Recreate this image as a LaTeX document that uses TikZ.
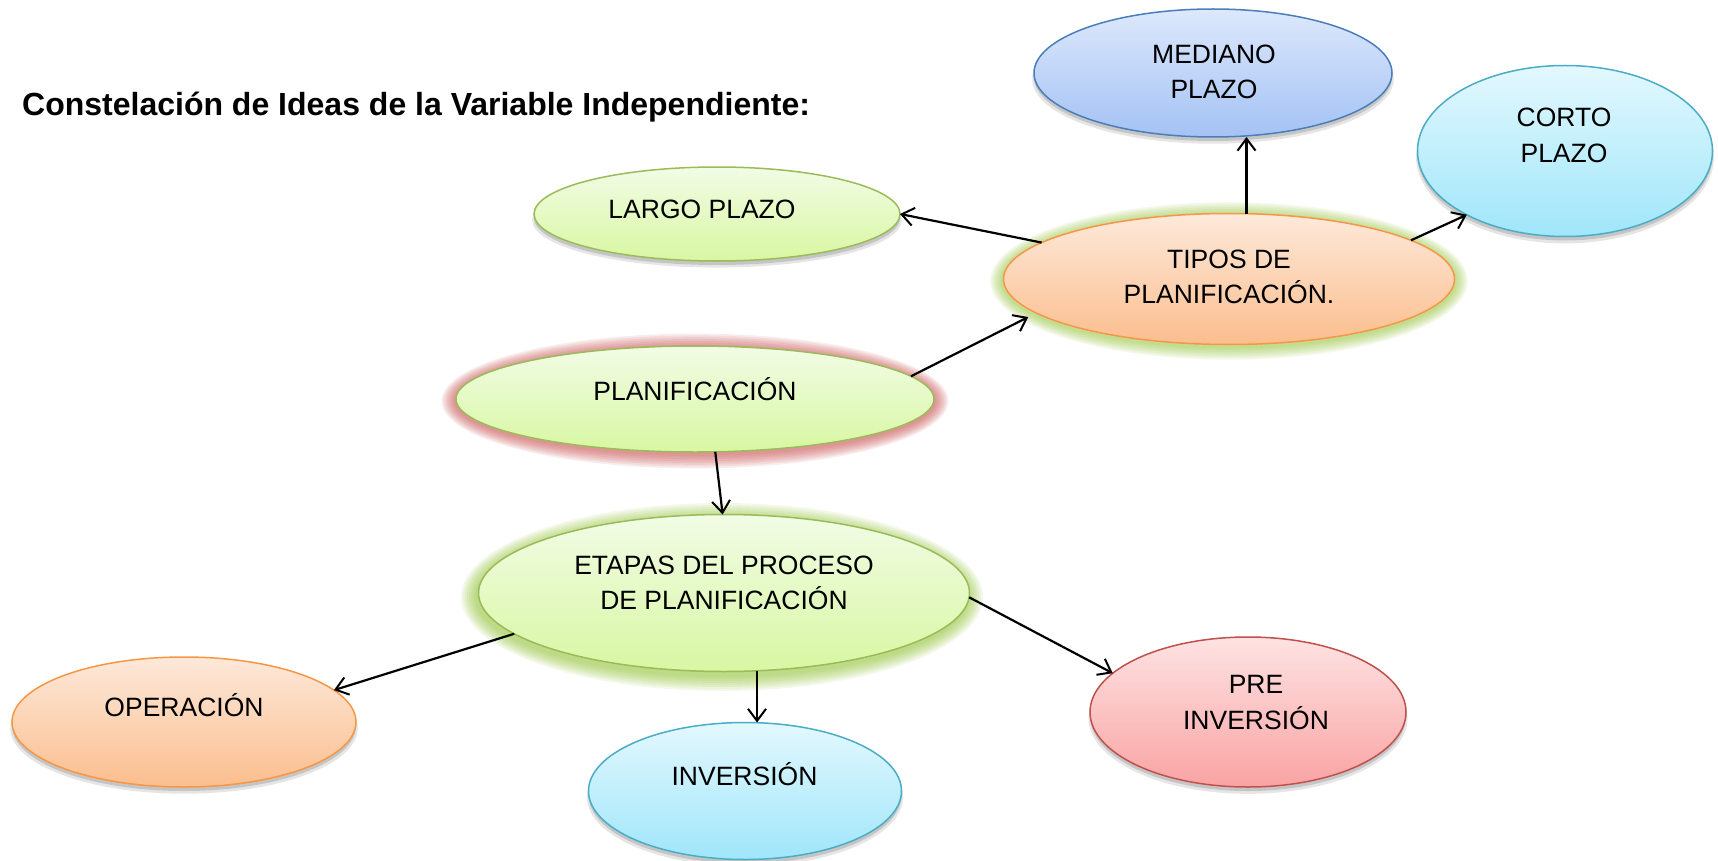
\documentclass[tikz,border=0pt]{standalone}
\usepackage{fontspec}
\setmainfont{Liberation Sans}
\usetikzlibrary{arrows.meta,shadows,shapes.geometric}

\definecolor{grnA}{HTML}{F2FCE6}
\definecolor{grnB}{HTML}{D8F7A2}
\definecolor{grnL}{HTML}{9BBB59}
\definecolor{orA}{HTML}{FDE9DA}
\definecolor{orB}{HTML}{FBBE8E}
\definecolor{orL}{HTML}{F79646}
\definecolor{blA}{HTML}{DDE8FC}
\definecolor{blB}{HTML}{A4C2F4}
\definecolor{blL}{HTML}{4A7EBB}
\definecolor{cyA}{HTML}{E3F8FE}
\definecolor{cyB}{HTML}{A0E6FA}
\definecolor{cyL}{HTML}{4BACC6}
\definecolor{rdA}{HTML}{FEE3E3}
\definecolor{rdB}{HTML}{F9A3A3}
\definecolor{rdL}{HTML}{C0504D}
\definecolor{glowR}{HTML}{C85050}
\definecolor{glowG}{HTML}{8DBF2E}

\begin{document}
\begin{tikzpicture}[x=1pt,y=-1pt,
  bub/.style={ellipse, inner sep=0pt, outer sep=0pt, line width=1.5pt},
  gbub/.style={bub, draw=grnL, top color=grnA, bottom color=grnB},
  obub/.style={bub, draw=orL, top color=orA, bottom color=orB},
  bbub/.style={bub, draw=blL, top color=blA, bottom color=blB},
  cbub/.style={bub, draw=cyL, top color=cyA, bottom color=cyB},
  rbub/.style={bub, draw=rdL, top color=rdA, bottom color=rdB},
  sh/.style={drop shadow={shadow xshift=0pt, shadow yshift=-6pt, shadow scale=1.01, opacity=.10, fill=black},
             drop shadow={shadow xshift=0pt, shadow yshift=-4pt, opacity=.14, fill=black}},
  arr/.style={-{Straight Barb[length=12pt,width=18pt,line width=2pt]}, line width=2.2pt, black},
  lbl/.style={font=\fontsize{26.5}{35.5}\selectfont, align=center, inner sep=0pt},
  lbl1/.style={lbl, text height=19pt, text depth=0pt},
  ttl/.style={anchor=base west, font=\fontsize{32}{38}\selectfont\bfseries, inner sep=0pt}
]
\useasboundingbox (0,0) rectangle (1718,861);

% glows
\foreach \i in {1,...,8} {
  \fill[glowR, opacity=0.11] (695,401) ellipse [x radius=239+1.8*\i, y radius=53+1.8*\i];
  \fill[glowG, opacity=0.09] (1229,281) ellipse [x radius=226+1.6*\i, y radius=66+1.6*\i];
  \fill[glowG, opacity=0.10] (722,597) ellipse [x radius=245+2*\i, y radius=78+2*\i];
}

% title
\node[ttl] (title) at (22,116) {Constelación de Ideas de la Variable Independiente:};

% ellipses
\node[bbub, sh, minimum width=358pt, minimum height=128pt] (mediano) at (1213,73) {};
\node[cbub, sh, minimum width=295pt, minimum height=171pt] (corto) at (1565,151) {};
\node[gbub, sh, minimum width=366pt, minimum height=94pt] (largo) at (717,214) {};
\node[obub, minimum width=451pt, minimum height=131pt] (tipos) at (1229,279) {};
\node[gbub, minimum width=478pt, minimum height=106pt] (planif) at (695,399) {};
\node[gbub, minimum width=491pt, minimum height=157pt] (etapas) at (724,593) {};
\node[obub, sh, minimum width=344pt, minimum height=130pt] (oper) at (184,722) {};
\node[cbub, sh, minimum width=313pt, minimum height=137pt] (inver) at (745,791) {};
\node[rbub, sh, minimum width=316pt, minimum height=150pt] (pre) at (1248,712) {};

% texts
\node[lbl] (mediano-t) at (1214,72) {MEDIANO\\PLAZO};
\node[lbl] (corto-t) at (1564,135.5) {CORTO\\PLAZO};
\node[lbl1] (largo-t) at (702,209) {LARGO PLAZO};
\node[lbl] (tipos-t) at (1229,277) {TIPOS DE\\PLANIFICACIÓN.};
\node[lbl1] (planif-t) at (695,391) {PLANIFICACIÓN};
\node[lbl] (etapas-t) at (724,583) {ETAPAS DEL PROCESO\\DE PLANIFICACIÓN};
\node[lbl1] (oper-t) at (184,707) {OPERACIÓN};
\node[lbl1] (inver-t) at (744.5,776) {INVERSIÓN};
\node[lbl] (pre-t) at (1256,702.5) {PRE\\INVERSIÓN};

% connectors
\draw[arr] (tipos.169) -- (largo.east);
\draw[arr] (tipos.75) -- (tipos.75 |- mediano.south);
\draw[arr] (tipos.12) -- (corto.-147);
\draw[arr, shorten >=9pt] (planif.6) -- (tipos.190);
\draw[arr] (planif.-69) -- (etapas.91);
\draw[arr] (etapas.191) -- (oper.12);
\draw[arr] (etapas.-67) -- (etapas.-67 |- inver.north);
\draw[arr] (etapas.-1) -- (pre.164);
\end{tikzpicture}
\end{document}
